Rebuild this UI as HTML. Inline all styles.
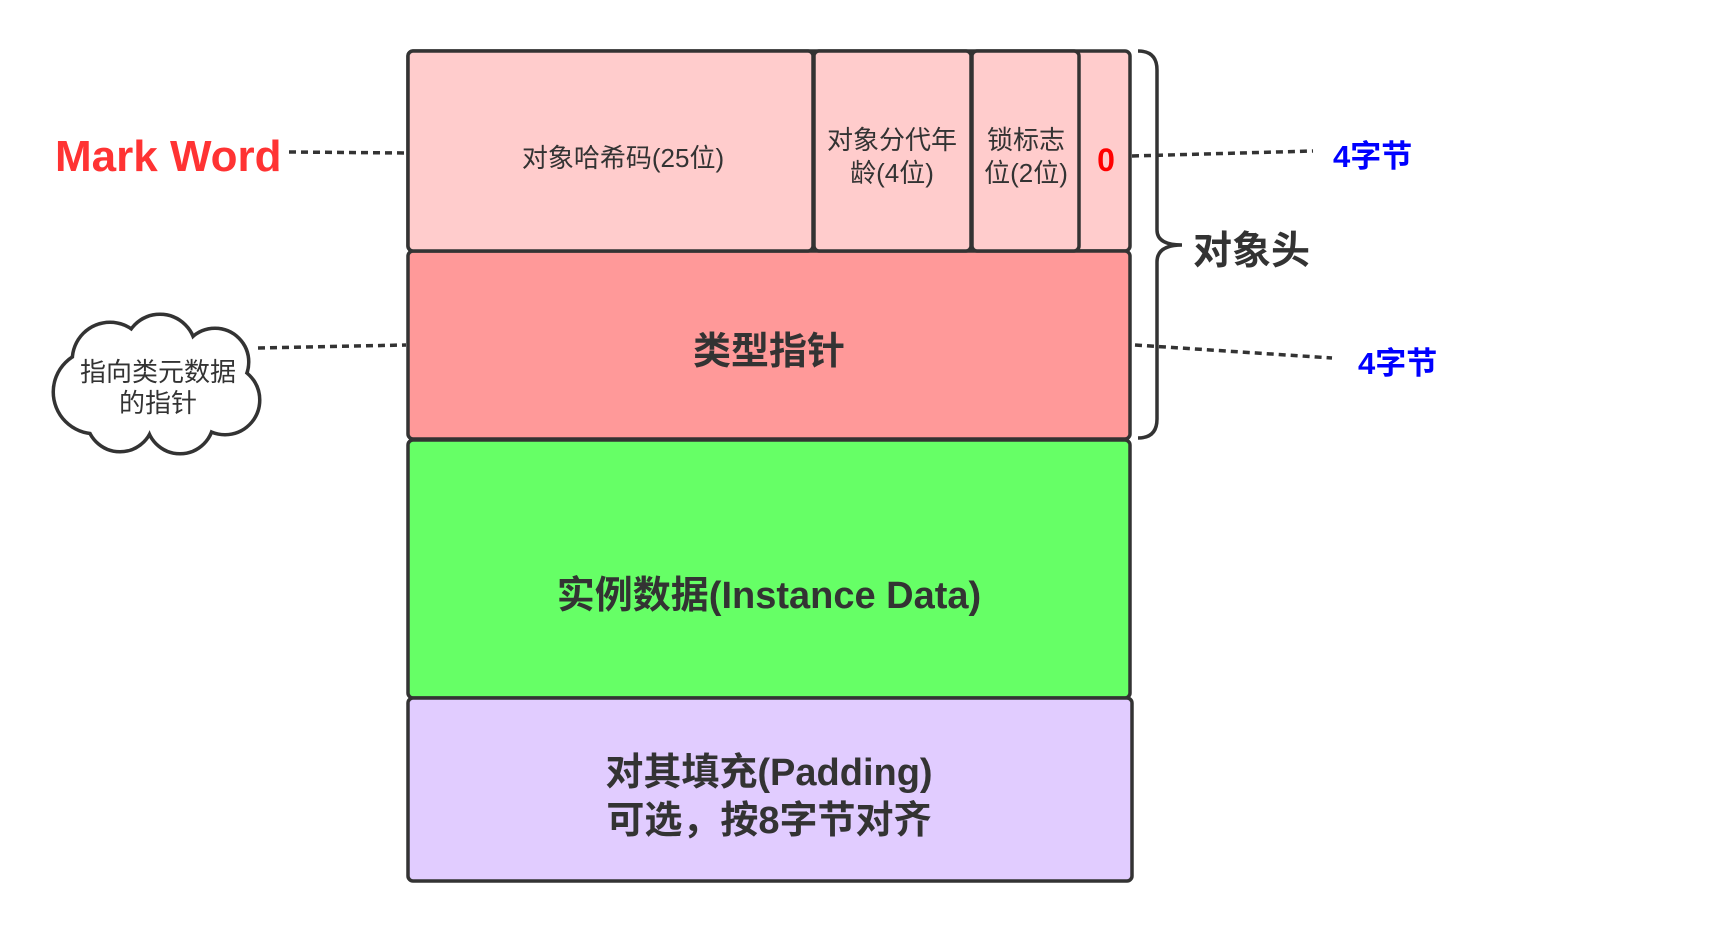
<!DOCTYPE html>
<html><head><meta charset="utf-8"><style>
html,body{margin:0;padding:0;background:#fff;}
svg{display:block;}
text{font-family:"Liberation Sans","Noto Sans CJK SC",sans-serif;}
</style></head><body>
<svg width="1720" height="931" viewBox="0 0 1720 931" xmlns="http://www.w3.org/2000/svg">
<g stroke="#333" stroke-width="3.5">
<rect x="408" y="51" width="722" height="200" rx="5" fill="#ffcccc"/>
<rect x="408" y="251" width="722" height="188" rx="5" fill="#ff9999"/>
<rect x="408" y="440" width="722" height="258" rx="5" fill="#66ff66"/>
<rect x="408" y="698" width="724" height="183" rx="5" fill="#e1ccff"/>
<rect x="408" y="51" width="405" height="200" rx="5" fill="#ffcccc"/>
<rect x="814" y="51" width="157" height="200" rx="5" fill="#ffcccc"/>
<rect x="972" y="51" width="107" height="200" rx="5" fill="#ffcccc"/>
</g>
<g fill="none" stroke="#333" stroke-width="3.5">
<path d="M1138 51 Q1157 51 1157 70 L1157 230 Q1157 245 1182 245 Q1157 245 1157 262 L1157 419 Q1157 438 1138 438"/>
</g>
<g stroke="#333" stroke-width="3.5" stroke-dasharray="7,5" fill="none">
<line x1="289" y1="152" x2="406" y2="153"/>
<line x1="1132" y1="156" x2="1313" y2="151"/>
<line x1="1135" y1="345" x2="1332" y2="358"/>
<line x1="258" y1="348" x2="406" y2="345"/>
</g>
<g stroke="#333" stroke-width="7" fill="#333">
<circle cx="110" cy="360" r="36"/><circle cx="160" cy="350" r="34"/><circle cx="215" cy="362" r="32"/>
<circle cx="95" cy="392" r="40"/><circle cx="225" cy="400" r="33"/><circle cx="120" cy="418" r="32"/>
<circle cx="180" cy="420" r="32"/><circle cx="155" cy="385" r="40"/>
</g>
<g fill="#fff">
<circle cx="110" cy="360" r="36"/><circle cx="160" cy="350" r="34"/><circle cx="215" cy="362" r="32"/>
<circle cx="95" cy="392" r="40"/><circle cx="225" cy="400" r="33"/><circle cx="120" cy="418" r="32"/>
<circle cx="180" cy="420" r="32"/><circle cx="155" cy="385" r="40"/>
</g>
<g font-size="26" fill="#333" text-anchor="middle">
<text x="158" y="381">指向类元数据</text>
<text x="158" y="412">的指针</text>
<text x="623" y="167">对象哈希码(25位)</text>
<text x="892" y="149">对象分代年</text>
<text x="892" y="182">龄(4位)</text>
<text x="1026" y="149">锁标志</text>
<text x="1026" y="182">位(2位)</text>
</g>
<text x="1106" y="171" font-size="32" font-weight="bold" fill="#ff0000" text-anchor="middle">0</text>
<text x="55" y="171" font-size="44" font-weight="bold" fill="#ff3333">Mark Word</text>
<text x="1333" y="167" font-size="31" font-weight="bold" fill="#0000ff">4字节</text>
<text x="1358" y="374" font-size="31" font-weight="bold" fill="#0000ff">4字节</text>
<text x="1193" y="264" font-size="39" font-weight="bold" fill="#333">对象头</text>
<g font-size="38" font-weight="bold" fill="#333" text-anchor="middle">
<text x="769" y="364">类型指针</text>
<text x="769" y="608">实例数据(Instance Data)</text>
<text x="769" y="785">对其填充(Padding)</text>
<text x="769" y="833">可选，按8字节对齐</text>
</g>
</svg>
</body></html>
